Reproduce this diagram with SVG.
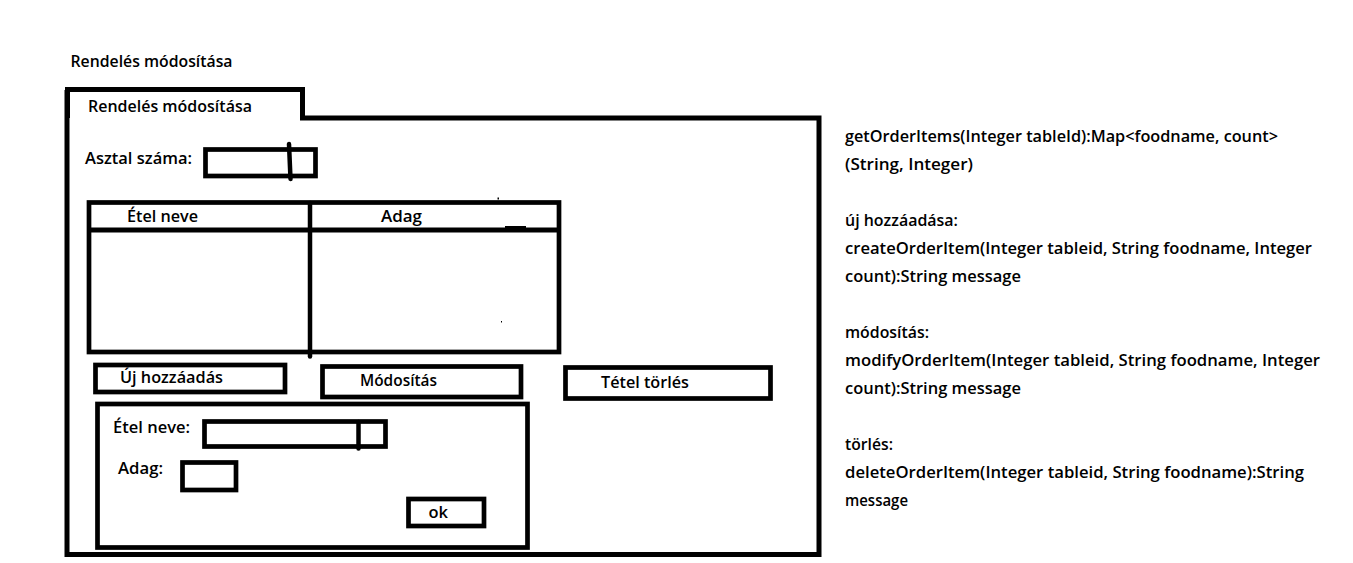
<svg xmlns="http://www.w3.org/2000/svg" width="1353" height="563" viewBox="0 0 1353 563">
  <style>
    .bg { fill: #ffffff; }
    .ln { fill: none; stroke: #000000; stroke-width: 5; stroke-linejoin: miter; }
    .bx { fill: #ffffff; stroke: #000000; stroke-width: 4.7; }
    .rd { fill: none; stroke: #000000; stroke-width: 4.5; stroke-linecap: round; }
    .t { font-family: "Open Sans", "Liberation Sans", sans-serif; font-size: 16.5px; font-weight: 600; fill: #000000; }
    .dot { fill: #000000; }
  </style>
  <rect class="bg" x="0" y="0" width="1353" height="563"/>

  <g id="title">
    <text class="t" x="70.5" y="67" textLength="162" lengthAdjust="spacingAndGlyphs">Rendelés módosítása</text>
  </g>

  <g id="window">
    <path class="ln" d="M67.5,118 V89.5 H302.5 V118"/>
    <path class="ln" d="M300,118 H819 V554.5 H67 V90"/>
    <text class="t" x="88" y="112" textLength="164" lengthAdjust="spacingAndGlyphs">Rendelés módosítása</text>
  </g>

  <g id="asztal">
    <text class="t" x="85" y="164" textLength="107" lengthAdjust="spacingAndGlyphs">Asztal száma:</text>
    <rect class="bx" x="205.5" y="149.5" width="110" height="26.5"/>
    <line class="rd" x1="289" y1="144" x2="290.5" y2="179"/>
  </g>

  <g id="table">
    <rect class="bx" x="89" y="202.5" width="470" height="149.5"/>
    <line class="ln" x1="89" y1="230" x2="559" y2="230"/>
    <line class="rd" x1="310" y1="203" x2="310" y2="356.5"/>
    <rect class="dot" x="505" y="226" width="21" height="2"/>
    <rect class="dot" x="497.5" y="197.5" width="1.5" height="2"/>
    <rect class="dot" x="501" y="321" width="1" height="1.5"/>
    <text class="t" x="127" y="222" textLength="71" lengthAdjust="spacingAndGlyphs">Étel neve</text>
    <text class="t" x="381" y="222" textLength="41" lengthAdjust="spacingAndGlyphs">Adag</text>
  </g>

  <g id="btn-uj">
    <rect class="bx" x="95.5" y="365" width="189.5" height="27"/>
    <text class="t" x="120" y="383" textLength="103" lengthAdjust="spacingAndGlyphs">Új hozzáadás</text>
  </g>

  <g id="btn-modositas">
    <rect class="bx" x="322.5" y="366.5" width="198.5" height="30.5"/>
    <text class="t" x="360" y="386" textLength="77" lengthAdjust="spacingAndGlyphs">Módosítás</text>
  </g>

  <g id="btn-torles">
    <rect class="bx" x="565.5" y="367.5" width="205" height="31"/>
    <text class="t" x="601" y="388" textLength="88" lengthAdjust="spacingAndGlyphs">Tétel törlés</text>
  </g>

  <g id="panel">
    <rect class="bx" x="97.5" y="404" width="430" height="143.5"/>
    <text class="t" x="113" y="433" textLength="77" lengthAdjust="spacingAndGlyphs">Étel neve:</text>
    <rect class="bx" x="204.5" y="421.5" width="181" height="25"/>
    <line class="rd" x1="358.5" y1="422" x2="358.5" y2="448.5"/>
    <text class="t" x="118" y="474" textLength="45" lengthAdjust="spacingAndGlyphs">Adag:</text>
    <rect class="bx" x="182.5" y="462.5" width="53.5" height="27.5"/>
  </g>

  <g id="btn-ok">
    <rect class="bx" x="408.5" y="499" width="75.5" height="27"/>
    <text class="t" x="428.5" y="518" textLength="19.5" lengthAdjust="spacingAndGlyphs">ok</text>
  </g>

  <g id="notes">
    <text class="t" x="845" y="142" textLength="433" lengthAdjust="spacingAndGlyphs">getOrderItems(Integer tableId):Map&lt;foodname, count&gt;</text>
    <text class="t" x="845" y="170" textLength="128" lengthAdjust="spacingAndGlyphs">(String, Integer)</text>
    <text class="t" x="845" y="226" textLength="113" lengthAdjust="spacingAndGlyphs">új hozzáadása:</text>
    <text class="t" x="845" y="254" textLength="467" lengthAdjust="spacingAndGlyphs">createOrderItem(Integer tableid, String foodname, Integer</text>
    <text class="t" x="845" y="282" textLength="176" lengthAdjust="spacingAndGlyphs">count):String message</text>
    <text class="t" x="845" y="338" textLength="84" lengthAdjust="spacingAndGlyphs">módosítás:</text>
    <text class="t" x="845" y="366" textLength="475" lengthAdjust="spacingAndGlyphs">modifyOrderItem(Integer tableid, String foodname, Integer</text>
    <text class="t" x="845" y="394" textLength="176" lengthAdjust="spacingAndGlyphs">count):String message</text>
    <text class="t" x="845" y="450" textLength="48" lengthAdjust="spacingAndGlyphs">törlés:</text>
    <text class="t" x="845" y="478" textLength="459" lengthAdjust="spacingAndGlyphs">deleteOrderItem(Integer tableid, String foodname):String</text>
    <text class="t" x="845" y="506" textLength="63" lengthAdjust="spacingAndGlyphs">message</text>
  </g>

  <g id="connectors"></g>
</svg>
